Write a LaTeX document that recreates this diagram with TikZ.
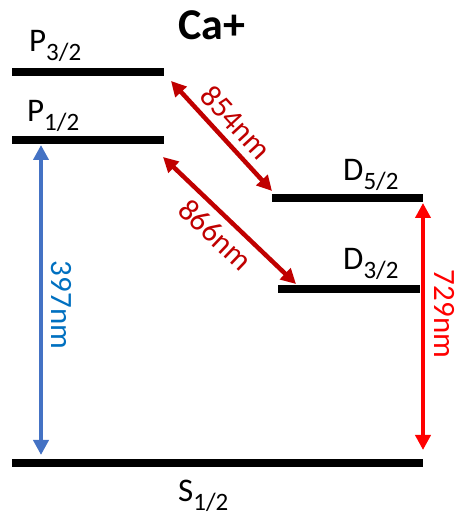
\documentclass[tikz,border=0pt]{standalone}
\usepackage{fontspec}
\setmainfont{Carlito}
\usetikzlibrary{arrows.meta}
\definecolor{uvblue}{HTML}{4472C4}
\definecolor{uvtext}{HTML}{0070C0}
\definecolor{irred}{HTML}{C00000}
\definecolor{qred}{HTML}{FF0000}
\newcommand{\lvl}[2]{#1\raisebox{-0.25em}{\fontsize{25}{25}\selectfont #2}}
\begin{document}
\begin{tikzpicture}[x=1pt, y=1pt, every node/.style={inner sep=0pt, font=\fontsize{33}{36}\selectfont},
                    level/.style={line width=8pt},
                    laser/.style={line width=4.5pt, {Triangle[length=15pt,width=15pt]}-{Triangle[length=15pt,width=15pt]}}]
                    \useasboundingbox (0,0) rectangle (459,516);
                    % energy levels
                    \coordinate (p32w) at (12,444); \coordinate (p32e) at (164,444);
                    \coordinate (p12w) at (12,376); \coordinate (p12e) at (164,376);
                    \coordinate (d52w) at (272,318); \coordinate (d52e) at (423,318);
                    \coordinate (d32w) at (278,227); \coordinate (d32e) at (420,227);
                    \coordinate (s12w) at (12,53); \coordinate (s12e) at (423,53);
                    \draw[level] (p32w) -- (p32e);
                    \draw[level] (p12w) -- (p12e);
                    \draw[level] (d52w) -- (d52e);
                    \draw[level] (d32w) -- (d32e);
                    \draw[level] (s12w) -- (s12e);
                    \node[anchor=base west] (lp32) at (29,464) {\lvl{P}{3/2}};
                    \node[anchor=base west] (lp12) at (27,394) {\lvl{P}{1/2}};
                    \node[anchor=base west] (ld52) at (343,335) {\lvl{D}{5/2}};
                    \node[anchor=base west] (ld32) at (343,246) {\lvl{D}{3/2}};
                    \node[anchor=base west] (ls12) at (178,14) {\lvl{S}{1/2}};
                    \node[font=\fontsize{44}{48}\selectfont\bfseries] (ion) at (212,491) {Ca+};
                    % transitions
                    \coordinate (b1) at (41,371); \coordinate (b2) at (41,61);
                    \coordinate (r1) at (423,313); \coordinate (r2) at (423,66);
                    \coordinate (a1) at (171,435); \coordinate (a2) at (272,325);
                    \coordinate (c1) at (163,359); \coordinate (c2) at (296,232);
                    \draw[laser, uvblue] (b1) -- (b2);
                    \draw[laser, qred] (r1) -- (r2);
                    \draw[laser, irred] (a1) -- node[sloped, above=7pt, font=\fontsize{31}{34}\selectfont] (l854) {854nm} (a2);
                    \draw[laser, irred] (c1) -- node[sloped, below=7pt, font=\fontsize{31}{34}\selectfont] (l866) {866nm} (c2);
                    \node[rotate=-90, text=uvtext, font=\fontsize{31}{34}\selectfont] (l397) at (61,211) {397nm};
                    \node[rotate=-90, text=qred, font=\fontsize{31}{34}\selectfont] (l729) at (445,202) {729nm};
                \end{tikzpicture}
\end{document}
